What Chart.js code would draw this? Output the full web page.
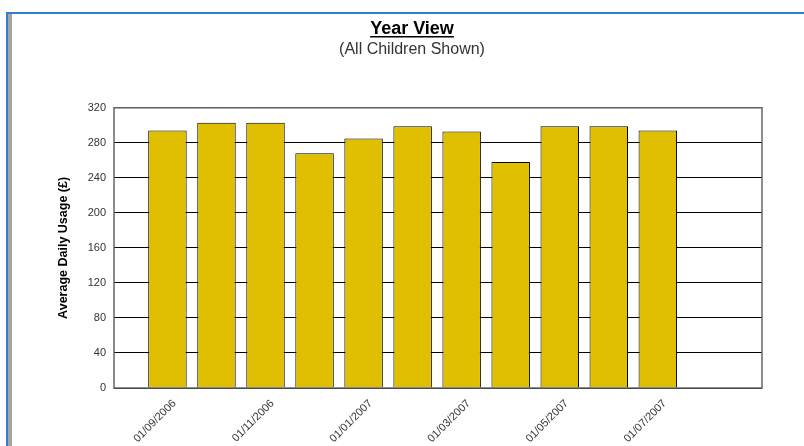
<!DOCTYPE html>
<html>
<head>
<meta charset="utf-8">
<title>Year View</title>
<script src="https://cdn.jsdelivr.net/npm/chart.js@4/dist/chart.umd.min.js"></script>
<style>
  body { margin: 0; background: #fff; }
  #wrap { width: 804px; height: 446px; }
</style>
</head>
<body>
<div id="wrap"><canvas id="year-chart" width="804" height="446"></canvas></div>
<script>
// Months on the x axis (one bar each)
const months = ['01/09/2006', '01/10/2006', '01/11/2006', '01/12/2006', '01/01/2007', '01/02/2007',
  '01/03/2007', '01/04/2007', '01/05/2007', '01/06/2007', '01/07/2007'];
// Average daily usage per month
const usage = [294, 303, 303, 268, 285, 299, 293, 258, 299, 299, 294];
// Only every other month gets a label
const labelledMonths = [0, 2, 4, 6, 8, 10];
const yTicks = [0, 40, 80, 120, 160, 200, 240, 280, 320];

// Window frame + plot border + title underline
const framePlugin = {
  id: 'frame',
  beforeDraw(chart) {
    const ctx = chart.ctx;
    ctx.save();
    ctx.fillStyle = '#fff';
    ctx.fillRect(0, 0, chart.width, chart.height);
    ctx.fillStyle = '#a8a497';
    ctx.fillRect(8, 14, 4, chart.height - 14);
    ctx.fillStyle = '#2f80d0';
    ctx.fillRect(6, 12, chart.width - 6, 2);
    ctx.fillRect(6, 12, 2, chart.height - 12);
    ctx.restore();
  },
  afterDatasetsDraw(chart) {
    const { ctx, chartArea: a } = chart;
    ctx.save();
    ctx.strokeStyle = '#666';
    ctx.lineWidth = 1.5;
    ctx.strokeRect(a.left, a.top, a.right - a.left, a.bottom - a.top);
    ctx.restore();
  },
  afterDraw(chart) {
    const ctx = chart.ctx;
    const tb = chart.titleBlock;
    ctx.save();
    ctx.font = 'bold 18px "Liberation Sans", Arial, sans-serif';
    const w = ctx.measureText('Year View').width;
    const cx = tb.left + tb.width / 2;
    ctx.fillStyle = '#000';
    ctx.fillRect(cx - w / 2, 36, w, 1.5);
    ctx.restore();
  }
};

new Chart(document.getElementById('year-chart'), {
  type: 'bar',
  data: {
    datasets: [{
      data: usage.map((v, i) => ({ x: i, y: v })),
      backgroundColor: '#e0be00',
      borderColor: '#000',
      borderWidth: 1,
      categoryPercentage: 1,
      barPercentage: 0.785
    }]
  },
  options: {
    responsive: false,
    animation: false,
    devicePixelRatio: 1,
    layout: { padding: { top: 10, left: 40, right: 20, bottom: 0 } },
    plugins: {
      legend: { display: false },
      tooltip: { enabled: false },
      title: {
        display: true,
        text: 'Year View',
        color: '#000',
        font: { family: '"Liberation Sans", Arial, sans-serif', size: 18, weight: 'bold' },
        padding: { top: 8, bottom: 0 }
      },
      subtitle: {
        display: true,
        text: '(All Children Shown)',
        color: '#333',
        font: { family: '"Liberation Sans", Arial, sans-serif', size: 16 },
        padding: { top: 0, bottom: 49 }
      }
    },
    scales: {
      x: {
        type: 'linear',
        offset: false,
        min: -1.09,
        max: 12.125,
        grid: { display: false, drawTicks: false },
        border: { display: false },
        afterBuildTicks: axis => { axis.ticks = labelledMonths.map(v => ({ value: v })); },
        afterFit: axis => { axis.height = 58; },
        ticks: {
          autoSkip: false,
          minRotation: 45,
          maxRotation: 45,
          padding: 9,
          labelOffset: 7,
          color: '#333',
          font: { family: '"Liberation Sans", Arial, sans-serif', size: 11 },
          callback: v => months[v]
        }
      },
      y: {
        min: 0,
        max: 320,
        afterBuildTicks: axis => { axis.ticks = yTicks.map(v => ({ value: v })); },
        afterFit: axis => { axis.width = 74; },
        grid: { color: '#000', lineWidth: 1, drawTicks: false },
        border: { display: false },
        ticks: {
          padding: 8,
          color: '#333',
          font: { family: '"Liberation Sans", Arial, sans-serif', size: 11 }
        },
        title: {
          display: true,
          text: 'Average Daily Usage (£)',
          color: '#000',
          font: { family: '"Liberation Sans", Arial, sans-serif', size: 12.5, weight: 'bold' },
          padding: { top: 16, bottom: 0 }
        }
      },
      // empty axis on the right, keeps the plot edge at the same place
      yRight: {
        position: 'right',
        display: true,
        grid: { display: false, drawTicks: false },
        border: { display: false },
        ticks: { display: false },
        afterFit: axis => { axis.width = 22; }
      }
    }
  },
  plugins: [framePlugin]
});
</script>
</body>
</html>
